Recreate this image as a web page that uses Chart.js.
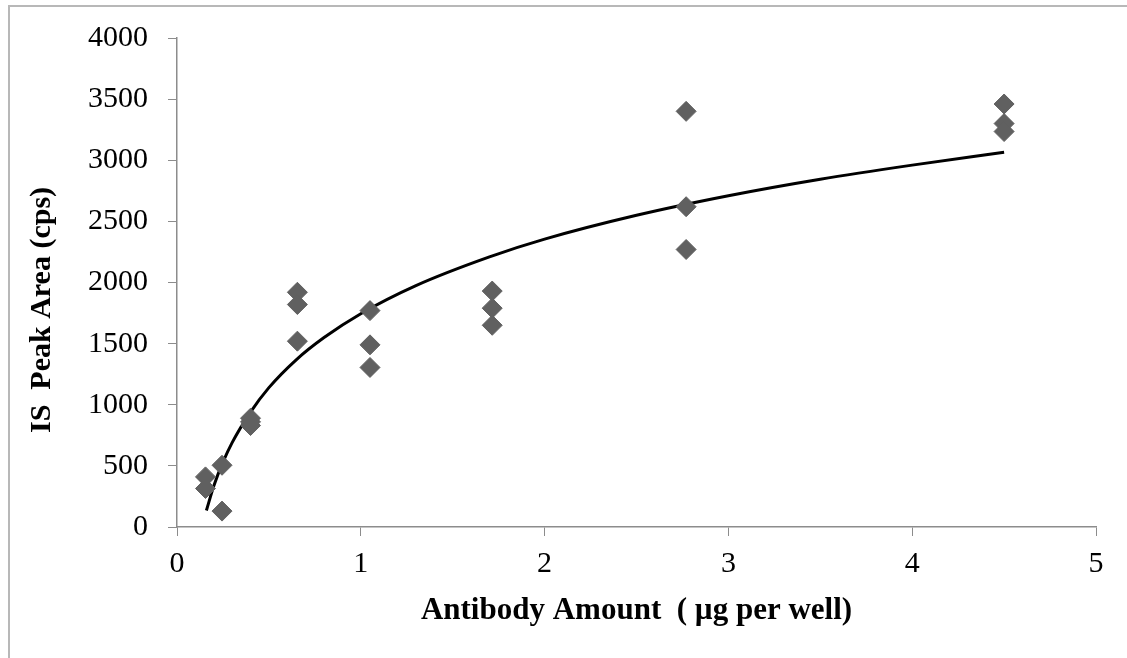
<!DOCTYPE html>
<html>
<head>
<meta charset="utf-8">
<script src="https://cdn.jsdelivr.net/npm/chart.js@4"></script>
<style>
  html, body { margin: 0; padding: 0; background: #fff; overflow: hidden; }
  #frame { position: absolute; left: 8px; top: 5px; width: 1300px; height: 800px;
           border-left: 2px solid #b8b8b8; border-top: 2px solid #b8b8b8; }
  #wrap { position: absolute; left: 0; top: 0; width: 1127px; height: 658px; }
</style>
</head>
<body>
<div id="frame"></div>
<div id="wrap"><canvas id="chart"></canvas></div>
<script>
// measured replicates (antibody amount vs IS peak area)
const antibodyX = [0.155, 0.155, 0.245, 0.245, 0.40, 0.40, 0.40,
                   0.655, 0.655, 0.655, 1.05, 1.05, 1.05,
                   1.715, 1.715, 1.715, 2.77, 2.77, 2.77, 4.5, 4.5, 4.5];
const peakArea  = [410, 315, 505, 130, 890, 860, 830,
                   1920, 1820, 1520, 1770, 1490, 1305,
                   1930, 1790, 1650, 3400, 2620, 2270, 3460, 3300, 3235];

// trendline
const fitX = [0.16, 0.2, 0.25, 0.3, 0.4, 0.5, 0.65, 0.8, 1.0, 1.3, 1.7, 2.0, 2.5, 3.0, 3.5, 4.0, 4.5];
const fitY = [135, 335, 530, 690, 940, 1140, 1370, 1550, 1745, 1975, 2210, 2355, 2550, 2710, 2845, 2960, 3065];

const xTicks = [0, 1, 2, 3, 4, 5];
const yTicks = [0, 500, 1000, 1500, 2000, 2500, 3000, 3500, 4000];

const AXIS_GRAY = '#8c8c8c';
const SERIF = '"Liberation Serif", "Times New Roman", serif';
const tickFont = { family: SERIF, size: 30 };

// y title sits near the left frame, a bit below the plot centre
const yTitlePlugin = {
  id: 'yTitle',
  afterDraw(chart) {
    const ctx = chart.ctx;
    ctx.save();
    ctx.translate(42, 310);
    ctx.rotate(-Math.PI / 2);
    ctx.font = 'bold 30px ' + SERIF;
    ctx.fillStyle = '#000';
    ctx.textAlign = 'center';
    ctx.textBaseline = 'middle';
    ctx.fillText('IS  Peak Area (cps)', 0, 0);
    ctx.restore();
  }
};

new Chart(document.getElementById('chart'), {
  type: 'scatter',
  data: {
    datasets: [
      {
        label: 'IS Peak Area',
        data: antibodyX.map((x, i) => ({ x: x, y: peakArea[i] })),
        pointStyle: 'rectRot',
        pointRadius: 10,
        pointHoverRadius: 10,
        backgroundColor: '#606060',
        borderColor: '#606060',
        borderWidth: 1
      },
      {
        label: 'Log. trend',
        type: 'line',
        data: fitX.map((x, i) => ({ x: x, y: fitY[i] })),
        borderColor: '#000',
        borderWidth: 3,
        pointRadius: 0,
        cubicInterpolationMode: 'monotone',
        fill: false
      }
    ]
  },
  options: {
    responsive: true,
    maintainAspectRatio: false,
    animation: false,
    layout: { padding: { top: 35, right: 31, left: 0, bottom: 0 } },
    plugins: { legend: { display: false }, tooltip: { enabled: false } },
    scales: {
      x: {
        type: 'linear',
        min: 0, max: 5,
        afterFit(scale) { scale.height = 131; },
        afterBuildTicks(scale) { scale.ticks = xTicks.map(v => ({ value: v })); },
        grid: { drawOnChartArea: false, drawTicks: true, tickLength: 9, color: AXIS_GRAY },
        border: { color: AXIS_GRAY, width: 1.5 },
        ticks: { color: '#000', font: tickFont, padding: 10, maxRotation: 0,
                 callback: v => String(v) },
        title: {
          display: true,
          text: 'Antibody Amount  ( µg per well)',
          color: '#000',
          font: { family: SERIF, size: 31, weight: 'bold' },
          padding: { top: 4, bottom: 28 }
        }
      },
      y: {
        type: 'linear',
        min: 0, max: 4000,
        afterFit(scale) { scale.width = 177; },
        afterBuildTicks(scale) { scale.ticks = yTicks.map(v => ({ value: v })); },
        grid: { drawOnChartArea: false, drawTicks: true, tickLength: 9, color: AXIS_GRAY },
        border: { color: AXIS_GRAY, width: 1.5 },
        ticks: { color: '#000', font: tickFont, padding: 20, callback: v => String(v) }
      }
    }
  },
  plugins: [yTitlePlugin]
});
</script>
</body>
</html>
